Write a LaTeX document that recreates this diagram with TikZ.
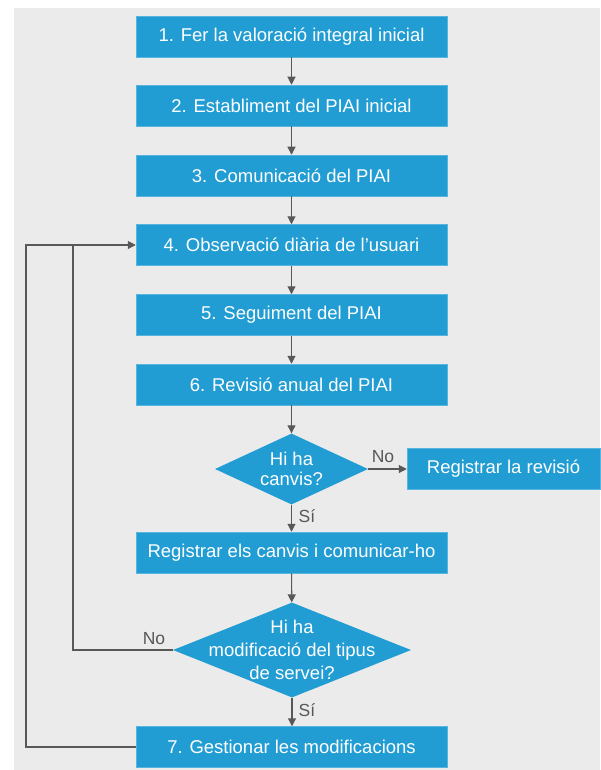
\documentclass[tikz,border=0pt]{standalone}
\usepackage{fontspec}
\setmainfont{Liberation Sans}
\usetikzlibrary{shapes.geometric,arrows.meta,calc}
\definecolor{boxblue}{RGB}{33,157,212}
\definecolor{bggray}{RGB}{235,235,235}
\definecolor{linegray}{RGB}{88,88,88}
\tikzset{
  stepbox/.style={rectangle, fill=boxblue, draw=boxblue!75!white, line width=0.5pt, minimum width=311pt, minimum height=41pt, inner sep=0pt, text=white, font=\fontsize{18.5}{22}\selectfont},
  dia/.style={diamond, fill=boxblue, inner sep=0pt, aspect=1},
  diatext/.style={text=white, align=center, font=\fontsize{18.5}{23}\selectfont},
  conn/.style={draw=linegray, line width=1.1pt},
  arr/.style={conn, -{Triangle[length=8pt,width=8pt]}},
  lab/.style={text=linegray, font=\fontsize{17.5}{20}\selectfont},
}
\begin{document}
\begin{tikzpicture}[x=1pt,y=-1pt]
\useasboundingbox (0,0) rectangle (600,770);
\fill[bggray] (14,8) rectangle (600,770);

\node[stepbox] (b1) at (291.5,36.5) {1. Fer la valoració integral inicial};
\node[stepbox] (b2) at (291.5,105.5) {2. Establiment del PIAI inicial};
\node[stepbox] (b3) at (291.5,175.5) {3. Comunicació del PIAI};
\node[stepbox] (b4) at (291.5,245) {4. Observació diària de l’usuari};
\node[stepbox] (b5) at (291.5,315) {5. Seguiment del PIAI};
\node[stepbox] (b6) at (291.5,384.5) {6. Revisió anual del PIAI};
\node[dia, minimum width=153pt, minimum height=71pt] (d1) at (291.5,469) {};
\node[diatext, font=\fontsize{18.5}{19.5}\selectfont] (d1t) at (d1) {Hi ha\\canvis?};
\node[stepbox, minimum width=193pt] (rr) at (503.5,469) {Registrar la revisió};
\node[stepbox] (rc) at (291.5,552.5) {Registrar els canvis i comunicar-ho};
\node[dia, minimum width=238pt, minimum height=95pt] (d2) at (292,650) {};
\node[diatext] (d2t) at (d2) {Hi ha\\modificació del tipus\\de servei?};
\node[stepbox] (b7) at (291.5,747) {7. Gestionar les modificacions};

\coordinate (outerx) at (26,0);
\coordinate (innerx) at (73,0);

\draw[arr] (b1) -- (b2);
\draw[arr] (b2) -- (b3);
\draw[arr] (b3) -- (b4);
\draw[arr] (b4) -- (b5);
\draw[arr] (b5) -- (b6);
\draw[arr] (b6) -- (d1);
\draw[arr] (d1.east) -- (rr.west);
\draw[arr] (d1.south) -- (rc.north -| d1.south);
\draw[arr] (rc) -- (d2);
\draw[arr] (d2.south) -- (b7.north -| d2.south);
\draw[arr] (b7.west) -- (b7.west -| outerx) -- (b4.west -| outerx) -- (b4.west);
\draw[conn] (d2.west) -- (d2.west -| innerx) -- (b4.west -| innerx);

\node[lab] (no1) at (383,457) {No};
\node[lab] (si1) at (307,516) {Sí};
\node[lab] (no2) at (154,639) {No};
\node[lab] (si2) at (307,710) {Sí};
\end{tikzpicture}
\end{document}
